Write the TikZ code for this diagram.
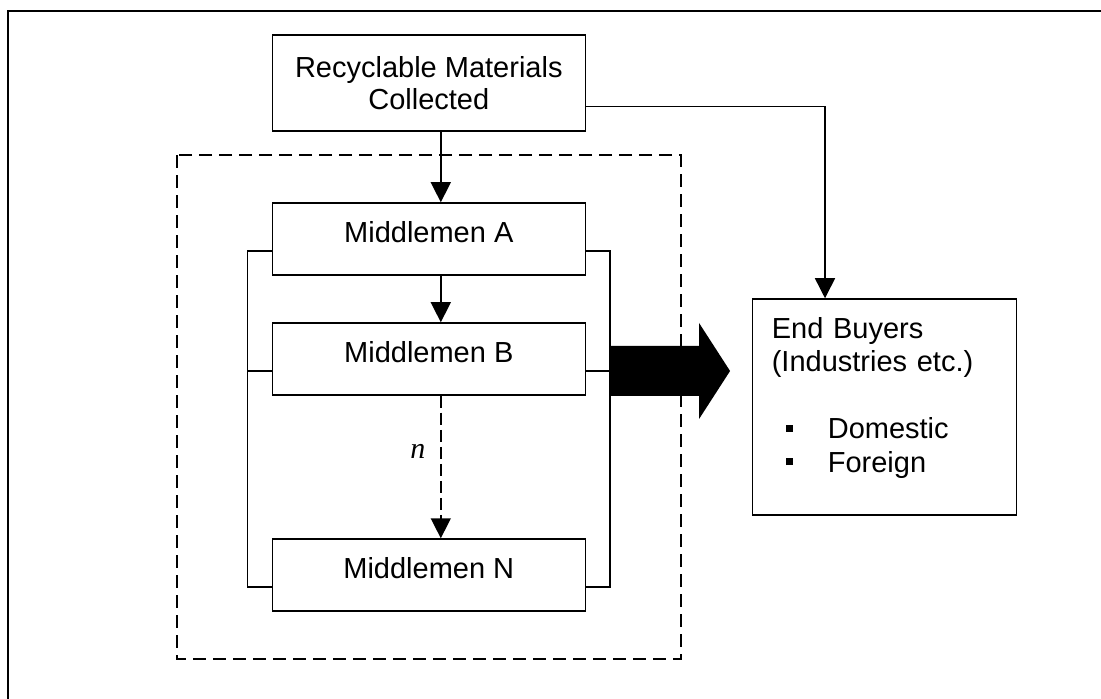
\documentclass[tikz,border=0pt]{standalone}
\usepackage{fontspec}
\setmainfont{Liberation Sans}
\newfontfamily\nfont{Liberation Serif}
\usetikzlibrary{arrows.meta}

\begin{document}
\begin{tikzpicture}[x=0.5pt,y=-0.5pt,line width=0.75pt,>={Triangle[length=10pt,width=10pt]}]
	\useasboundingbox (0,0) rectangle (1101,699);
	\draw[line width=1pt] (8.3,11) rectangle (1120,720);
	
	\begin{scope}[every node/.style={rectangle,draw,font=\fontsize{14.5pt}{16pt}\selectfont}]
		\node[minimum width=156.5pt,minimum height=48pt,align=center] (R) at (428.8,83) {Recyclable Materials\\Collected};
		\begin{scope}[every node/.append style={minimum width=156.5pt,minimum height=36pt,text height=10.5pt,text depth=7.1pt}]
			\node (A) at (428.8,239) {Middlemen A};
			\node (B) at (428.8,359) {Middlemen B};
			\node (N) at (428.8,575) {Middlemen N};
		\end{scope}
		\node[minimum width=132pt,minimum height=108pt,inner xsep=9.6pt,text width=112.8pt,align=left,font=\fontsize{14.5pt}{16.75pt}\selectfont] (E) at (884.6,407)
			{\rule{0pt}{12pt}End Buyers\\(Industries etc.)\\[16.75pt]
			\makebox[28pt][l]{\hspace*{7pt}\rule[3.45pt]{3.5pt}{3.5pt}}Domestic\\
			\makebox[28pt][l]{\hspace*{7pt}\rule[3.45pt]{3.5pt}{3.5pt}}Foreign\rule[-13.9pt]{0pt}{13.9pt}};
	\end{scope}
	
	% group of middlemen
	\draw[line width=0.85pt,dash pattern=on 6.5pt off 3.5pt] (176.7,155.3) rectangle (680.7,659);
	\draw ([yshift=-6pt]A.west) -- ++(-12pt,0) |- ([yshift=-6pt]N.west);
	\draw ([yshift=-6pt]B.west) -- ++(-12pt,0);
	\draw ([yshift=-6pt]A.east) -- ++(12pt,0) |- ([yshift=-6pt]N.east);
	\draw ([yshift=-6pt]B.east) -- ++(12pt,0) coordinate (T);
	
	\begin{scope}[every edge/.style={draw=black,line width=0.75pt}]
		\path [->] ([xshift=6pt]R.south) edge ([xshift=6pt]A.north);
		\path [->] ([xshift=6pt]A.south) edge ([xshift=6pt]B.north);
		\path [->] ([xshift=6pt]B.south) edge [dash pattern=on 6pt off 2.5pt] node [pos=0.39,left=4pt,font=\nfont\itshape\fontsize{15pt}{15pt}\selectfont] {n} ([xshift=6pt]N.north);
	\end{scope}
	\draw[->] ([yshift=-11.85pt]R.east) -| ([xshift=-29.8pt]E.north);
	
	% big arrow to the end buyers
	\fill ([yshift=12.5pt]T) -- ++(44.5pt,0) -- ++(0,11.5pt) -- ++(15.5pt,-24pt) -- ++(-15.5pt,-24pt) -- ++(0,11.5pt) -- ++(-44.5pt,0) -- cycle;
\end{tikzpicture}
\end{document}
